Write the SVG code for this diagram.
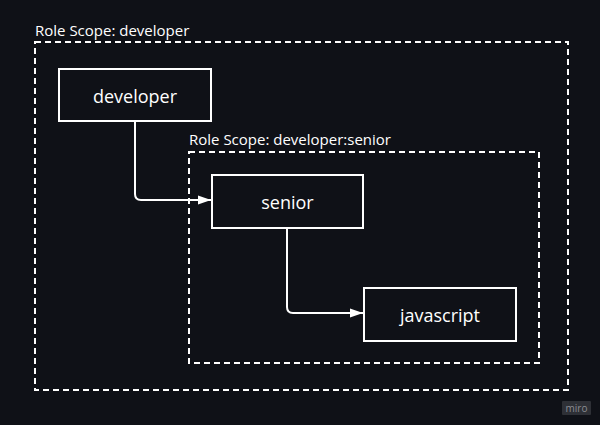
<svg xmlns="http://www.w3.org/2000/svg" width="600" height="425" viewBox="0 0 600 425">
<defs>
<style>
.scope{fill:none;stroke:#ffffff;stroke-width:2;stroke-dasharray:6 4}
.scopelbl{font-family:"Open Sans","Noto Sans",sans-serif;font-size:15px;fill:#ffffff}
.box{fill:#0f1117;stroke:#ffffff;stroke-width:2}
.lbl{font-family:"Open Sans","Noto Sans",sans-serif;font-size:18px;fill:#ffffff;text-anchor:middle;dominant-baseline:central}
.edge{fill:none;stroke:#ffffff;stroke-width:2}
</style>
<marker id="arr" viewBox="0 0 10 10" refX="10" refY="5" markerWidth="6.5" markerHeight="6.5" markerUnits="strokeWidth" orient="auto">
<path d="M0,1.5 L10,5 L0,8.5 Z" fill="#ffffff"/>
</marker>
</defs>
<rect width="600" height="425" fill="#0f1117"/>
<g id="scope-developer">
<rect class="scope" x="35" y="42" width="533" height="348"/>
<text class="scopelbl" x="35" y="36">Role Scope: developer</text>
</g>
<g id="scope-developer-senior">
<rect class="scope" x="189" y="152" width="350" height="211"/>
<text class="scopelbl" x="189" y="145">Role Scope: developer:senior</text>
</g>
<g id="connectors">
<path class="edge" d="M135,121 V194 Q135,200 141,200 H211" marker-end="url(#arr)"/>
<path class="edge" d="M287,228 V307 Q287,313 293,313 H363" marker-end="url(#arr)"/>
</g>
<g id="node-developer">
<rect class="box" x="59" y="69" width="152" height="52"/>
<text class="lbl" x="135" y="96">developer</text>
</g>
<g id="node-senior">
<rect class="box" x="212" y="175" width="151" height="53"/>
<text class="lbl" x="287.5" y="202">senior</text>
</g>
<g id="node-javascript">
<rect class="box" x="364" y="288" width="152" height="53"/>
<text class="lbl" x="440" y="315">javascript</text>
</g>
<g id="watermark">
<rect x="562" y="401" width="29" height="14" rx="1" fill="#2e3036"/>
<text x="576.5" y="408" font-family="Open Sans, sans-serif" font-size="10" fill="#8a8c92" text-anchor="middle" dominant-baseline="central">miro</text>
</g>
</svg>
